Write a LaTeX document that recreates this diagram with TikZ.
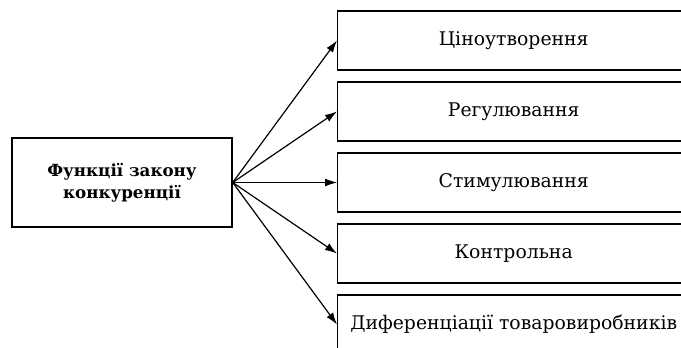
\documentclass[tikz,border=0pt]{standalone}
\usepackage{fontspec}
\setmainfont{DejaVu Serif}
\usetikzlibrary{trees,arrows.meta}

\begin{document}
\begin{tikzpicture}[x=1pt, y=1pt, grow'=east, level distance=215pt, sibling distance=71pt,
		parent anchor=east, child anchor=west,
		every node/.style={draw, line width=1.4pt},
		every child node/.style={anchor=west, minimum width=352pt, minimum height=59pt, font=\fontsize{18.8}{23}\selectfont},
		edge from parent/.style={draw, line width=1.2pt, -{Latex[length=12pt,width=8pt]}},
		]
		\clip (0,0) rectangle (681,-348);
		\node[minimum width=220pt, minimum height=89pt, align=center, font=\bfseries\fontsize{16.7}{22}\selectfont] (law) at (122,-182.5) {Функції закону\\конкуренції}
		child { node (price) {Ціноутворення}}
		child { node (reg) {Регулювання}}
		child { node (stim) {Стимулювання}}
		child { node (ctrl) {Контрольна}}
		child { node (diff) {Диференціації товаровиробників}}
		;
	\end{tikzpicture}
\end{document}
